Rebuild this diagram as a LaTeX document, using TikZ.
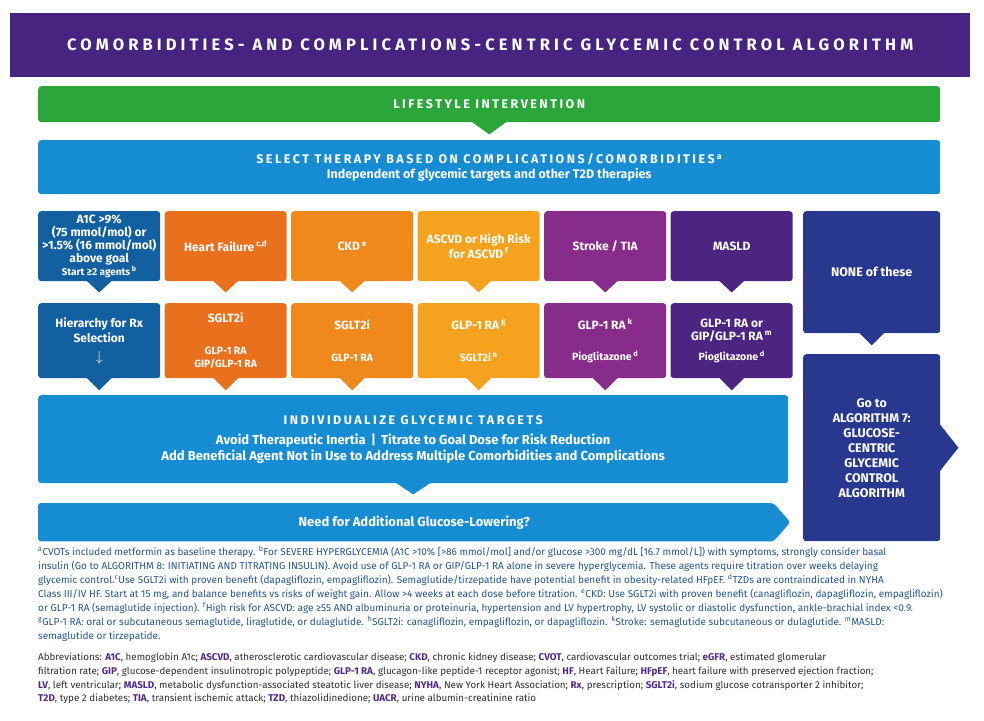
\documentclass[tikz,border=0pt]{standalone}
\usepackage{fontspec}
\setmainfont{Fira Sans}
\newfontfamily\titlefont[LetterSpace=25]{Fira Sans}
\newfontfamily\capsfont[LetterSpace=20]{Fira Sans}
\usetikzlibrary{calc,backgrounds}

\definecolor{headpurple}{RGB}{70,36,128}
\definecolor{lifegreen}{RGB}{42,166,58}
\definecolor{selblue}{RGB}{22,140,210}
\definecolor{a1cblue}{RGB}{18,96,160}
\definecolor{hforange}{RGB}{233,113,30}
\definecolor{ckdorange}{RGB}{239,137,28}
\definecolor{ascvdorange}{RGB}{245,163,30}
\definecolor{strokepurple}{RGB}{136,44,140}
\definecolor{masldpurple}{RGB}{76,36,130}
\definecolor{nonenavy}{RGB}{40,56,142}
\definecolor{notetext}{RGB}{35,85,145}
\definecolor{abbrtext}{RGB}{45,45,55}
\definecolor{abbrkey}{RGB}{78,42,140}

\newcommand{\ab}[1]{\textcolor{abbrkey}{\textbf{#1}}}
\newcommand{\fn}[1]{\textsuperscript{#1}}
\newcommand{\subsize}{\fontsize{10.5}{13}\selectfont}

\begin{document}
\begin{tikzpicture}[x=1pt, y=-1pt,
  box/.style={rounded corners=3pt, inner sep=0pt, anchor=north west, align=center, text=white,
    font=\bfseries\fontsize{12}{13}\selectfont},
  col/.style={box, minimum width=122pt},
  toprow/.style={col, minimum height=70pt},
  rxrow/.style={col, minimum height=75pt},
  bar/.style={box, fill=selblue, font=\bfseries\fontsize{13}{16}\selectfont}]

  % Page size
  \useasboundingbox (0,0) rectangle (984,720);

  % Column positions of the comorbidity boxes
  \def\colstep{126.5}
  \def\rowA{211}
  \def\rowB{303}

  % Title banner
  \node[fill=headpurple, minimum width=960pt, minimum height=64pt, inner sep=0pt, anchor=north west,
    text=white, font=\titlefont\bfseries\fontsize{16.5}{18}\selectfont] (title) at (10,13)
    {COMORBIDITIES- AND COMPLICATIONS-CENTRIC GLYCEMIC CONTROL ALGORITHM};

  % Lifestyle and therapy selection bars
  \node[bar, fill=lifegreen, minimum width=902pt, minimum height=36pt,
    font=\bfseries\fontsize{12.5}{15}\selectfont] (life) at (38,86)
    {\capsfont LIFESTYLE INTERVENTION};
  \node[bar, minimum width=902pt, minimum height=54pt, font=\bfseries\fontsize{12.5}{15}\selectfont]
    (select) at (38,140)
    {{\capsfont SELECT THERAPY BASED ON COMPLICATIONS/COMORBIDITIES\,\fn{a}}\\
     {\fontsize{12.5}{15}\selectfont Independent of glycemic targets and other T2D therapies}};
  \fill[lifegreen] ([xshift=-18pt,yshift=1pt]life.south) -- ([xshift=18pt,yshift=1pt]life.south)
    -- ([yshift=-12pt]life.south) -- cycle;

  % Comorbidities (top row)
  \node[toprow, fill=a1cblue] (a1c) at (38,\rowA)
    {A1C >9\%\\(75 mmol/mol) or\\>1.5\% (16 mmol/mol)\\above goal\\{\fontsize{10}{13}\selectfont Start ≥2 agents\,\fn{b}}};
  \node[toprow, fill=hforange] (hf) at ({38+\colstep},\rowA) {Heart Failure\,\fn{c,d}};
  \node[toprow, fill=ckdorange] (ckd) at ({38+2*\colstep},\rowA) {CKD\,\fn{e}};
  \node[toprow, fill=ascvdorange] (ascvd) at ({38+3*\colstep},\rowA) {ASCVD or High Risk\\for ASCVD\,\fn{f}};
  \node[toprow, fill=strokepurple] (stroke) at ({38+4*\colstep},\rowA) {Stroke / TIA};
  \node[toprow, fill=masldpurple] (masld) at ({38+5*\colstep},\rowA) {MASLD};
  \node[box, fill=nonenavy, minimum width=137pt, minimum height=122pt,
    font=\bfseries\fontsize{12.5}{15}\selectfont] (none) at (803,\rowA) {NONE of these};

  % Preferred agents (second row)
  \node[rxrow, fill=a1cblue, font=\bfseries\fontsize{12}{15}\selectfont] (a1c-rx) at (38,\rowB)
    {Hierarchy for Rx\\Selection\\[4pt]{\fontsize{14}{15}\selectfont$\downarrow$}};
  \node[rxrow, fill=hforange] (hf-rx) at ({38+\colstep},\rowB)
    {SGLT2i\\[19pt]\subsize GLP-1 RA\\\subsize GIP/GLP-1 RA};
  \node[rxrow, fill=ckdorange] (ckd-rx) at ({38+2*\colstep},\rowB)
    {SGLT2i\\[19pt]\subsize GLP-1 RA};
  \node[rxrow, fill=ascvdorange] (ascvd-rx) at ({38+3*\colstep},\rowB)
    {GLP-1 RA\,\fn{g}\\[19pt]\subsize SGLT2i\,\fn{h}};
  \node[rxrow, fill=strokepurple] (stroke-rx) at ({38+4*\colstep},\rowB)
    {GLP-1 RA\,\fn{k}\\[18pt]\subsize Pioglitazone\,\fn{d}};
  \node[rxrow, fill=masldpurple] (masld-rx) at ({38+5*\colstep},\rowB)
    {GLP-1 RA or\\GIP/GLP-1 RA\,\fn{m}\\[7pt]\subsize Pioglitazone\,\fn{d}};

  % Downward pointers under each box
  \foreach \n/\c in {a1c/a1cblue, hf/hforange, ckd/ckdorange, ascvd/ascvdorange,
      stroke/strokepurple, masld/masldpurple} {
    \fill[\c] ([xshift=-13pt,yshift=1pt]\n.south) -- ([xshift=13pt,yshift=1pt]\n.south)
      -- ([yshift=-11pt]\n.south) -- cycle;
    \fill[\c] ([xshift=-13pt,yshift=1pt]\n-rx.south) -- ([xshift=13pt,yshift=1pt]\n-rx.south)
      -- ([yshift=-12pt]\n-rx.south) -- cycle;
  }

  % None of these: go to the glucose-centric algorithm
  \fill[nonenavy] ([xshift=-13pt,yshift=1pt]none.south) -- ([xshift=13pt,yshift=1pt]none.south)
    -- ([yshift=-12pt]none.south) -- cycle;
  \node[box, fill=nonenavy, minimum width=137pt, minimum height=187pt,
    font=\bfseries\fontsize{12.5}{15}\selectfont] (goto) at (803,354)
    {Go to\\ALGORITHM 7:\\GLUCOSE-\\CENTRIC\\GLYCEMIC\\CONTROL\\ALGORITHM};
  \fill[nonenavy] ([xshift=-1pt,yshift=24pt]goto.east) -- ([xshift=18pt]goto.east)
    -- ([xshift=-1pt,yshift=-24pt]goto.east) -- cycle;

  % Glycemic targets
  \node[bar, minimum width=750pt, minimum height=88pt] (indiv) at (38,395)
    {{\fontsize{12.5}{16}\selectfont\capsfont INDIVIDUALIZE GLYCEMIC TARGETS}\\[4pt]
     Avoid Therapeutic Inertia \,|\, Titrate to Goal Dose for Risk Reduction\\
     Add Beneficial Agent Not in Use to Address Multiple Comorbidities and Complications};
  \fill[selblue] ([xshift=-18pt,yshift=1pt]indiv.south) -- ([xshift=18pt,yshift=1pt]indiv.south)
    -- ([yshift=-11pt]indiv.south) -- cycle;

  \node[bar, fill=none, minimum width=752pt, minimum height=38pt] (need) at (38,503)
    {Need for Additional Glucose-Lowering?};
  \begin{scope}[on background layer]
    \fill[selblue, rounded corners=3pt] (need.north west) -- ([xshift=-17pt]need.north east)
      -- (need.east) -- ([xshift=-17pt]need.south east) -- (need.south west) -- cycle;
  \end{scope}

  % Footnotes
  \node[anchor=north west, inner sep=0pt, align=left, text=notetext,
    font=\fontsize{10}{14}\selectfont] (notes) at (38,546)
    {\fn{a}CVOTs included metformin as baseline therapy. \fn{b}For SEVERE HYPERGLYCEMIA (A1C >10\% [>86 mmol/mol] and/or glucose >300 mg/dL [16.7 mmol/L]) with symptoms, strongly consider basal\\
     insulin (Go to ALGORITHM 8: INITIATING AND TITRATING INSULIN). Avoid use of GLP-1 RA or GIP/GLP-1 RA alone in severe hyperglycemia. These agents require titration over weeks delaying\\
     glycemic control.\fn{c}Use SGLT2i with proven benefit (dapagliflozin, empagliflozin). Semaglutide/tirzepatide have potential benefit in obesity-related HFpEF. \fn{d}TZDs are contraindicated in NYHA\\
     Class III/IV HF. Start at 15 mg, and balance benefits vs risks of weight gain. Allow >4 weeks at each dose before titration. \fn{e}CKD: Use SGLT2i with proven benefit (canagliflozin, dapagliflozin, empagliflozin)\\
     or GLP-1 RA (semaglutide injection). \fn{f}High risk for ASCVD: age ≥55 AND albuminuria or proteinuria, hypertension and LV hypertrophy, LV systolic or diastolic dysfunction, ankle-brachial index <0.9.\\
     \fn{g}GLP-1 RA: oral or subcutaneous semaglutide, liraglutide, or dulaglutide. \fn{h}SGLT2i: canagliflozin, empagliflozin, or dapagliflozin. \fn{k}Stroke: semaglutide subcutaneous or dulaglutide. \fn{m}MASLD:\\
     semaglutide or tirzepatide.};

  % Abbreviations
  \node[anchor=north west, inner sep=0pt, align=left, text=abbrtext,
    font=\fontsize{9.8}{13.7}\selectfont] (abbr) at (38,653)
    {Abbreviations: \ab{A1C}, hemoglobin A1c; \ab{ASCVD}, atherosclerotic cardiovascular disease; \ab{CKD}, chronic kidney disease; \ab{CVOT}, cardiovascular outcomes trial; \ab{eGFR}, estimated glomerular\\
     filtration rate; \ab{GIP}, glucose-dependent insulinotropic polypeptide; \ab{GLP-1 RA}, glucagon-like peptide-1 receptor agonist; \ab{HF}, Heart Failure; \ab{HFpEF}, heart failure with preserved ejection fraction;\\
     \ab{LV}, left ventricular; \ab{MASLD}, metabolic dysfunction-associated steatotic liver disease; \ab{NYHA}, New York Heart Association; \ab{Rx}, prescription; \ab{SGLT2i}, sodium glucose cotransporter 2 inhibitor;\\
     \ab{T2D}, type 2 diabetes; \ab{TIA}, transient ischemic attack; \ab{TZD}, thiazolidinedione; \ab{UACR}, urine albumin-creatinine ratio};
\end{tikzpicture}
\end{document}
